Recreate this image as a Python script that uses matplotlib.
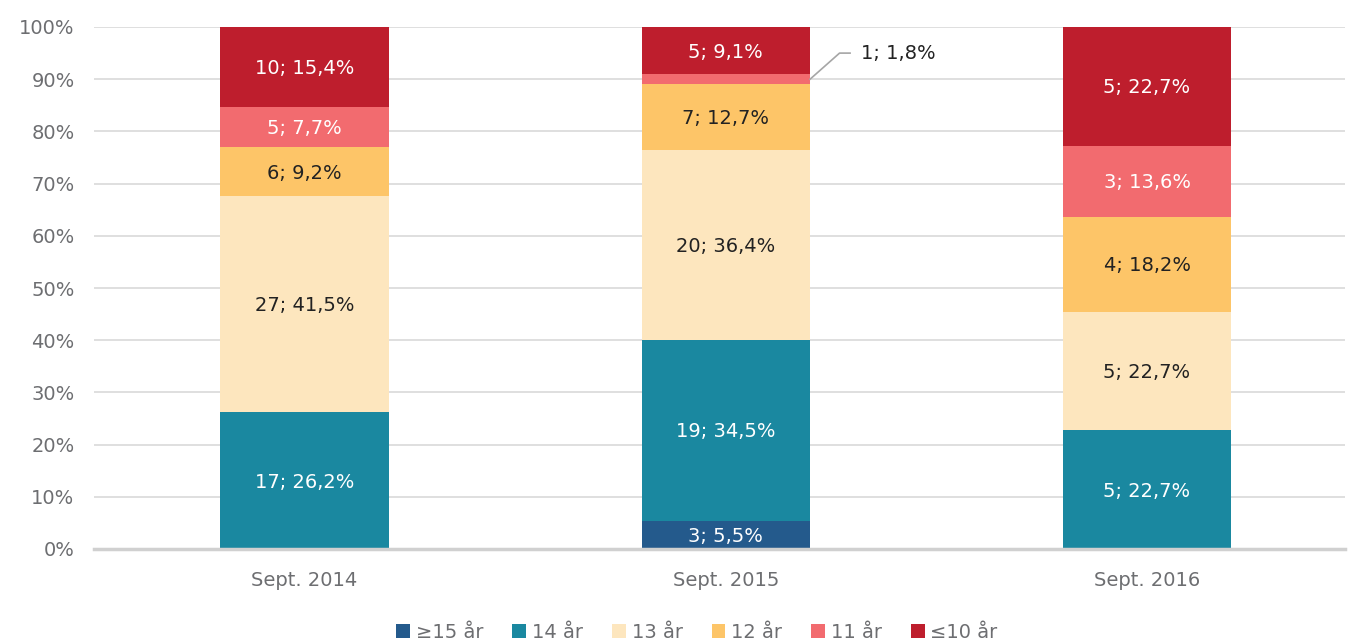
import numpy as np
import matplotlib.pyplot as plt

plt.rcParams['font.family'] = ['DejaVu Sans']

years = ['Sept. 2014', 'Sept. 2015', 'Sept. 2016']
groups = ['≥15 år', '14 år', '13 år', '12 år', '11 år', '≤10 år']
counts = {
    '≥15 år': [0, 3, 0],
    '14 år': [17, 19, 5],
    '13 år': [27, 20, 5],
    '12 år': [6, 7, 4],
    '11 år': [5, 1, 3],
    '≤10 år': [10, 5, 5],
}
colors = ['#245a8c', '#1a88a0', '#fde6be', '#fdc568', '#f26b6f', '#be1e2d']
text_colors = ['white', 'white', '#222222', '#222222', 'white', 'white']

totals = np.sum([counts[g] for g in groups], axis=0)

fig = plt.figure(figsize=(13.49, 6.44), dpi=100)
ax = fig.add_axes([94 / 1349, 95 / 644, (1345 - 94) / 1349, (549 - 27) / 644])

x = np.arange(len(years))
bottom = np.zeros(len(years))
for g, c, tc in zip(groups, colors, text_colors):
    vals = np.array(counts[g])
    pct = vals / totals * 100
    ax.bar(x, pct, 0.4, bottom=bottom, color=c, label=g, zorder=3)
    for i in range(len(years)):
        if vals[i] == 0:
            continue
        lab = f'{vals[i]}; {pct[i]:.1f}%'.replace('.', ',')
        if pct[i] < 3:
            # small slice gets a callout
            y = bottom[i] + pct[i] / 2
            ax.plot([x[i] + 0.2, x[i] + 0.27, x[i] + 0.295], [y, y + 5, y + 5],
                    color='#a6a6a6', lw=1.2, zorder=4, clip_on=False)
            ax.text(x[i] + 0.322, y + 5, lab, ha='left', va='center',
                    fontsize=14, color='#222222')
        else:
            ax.text(x[i], bottom[i] + pct[i] / 2 - 0.3, lab, ha='center', va='center',
                    fontsize=14, color=tc, zorder=5)
    bottom += pct

ax.set_xlim(-0.5, 2.47)
ax.set_ylim(0, 100)
ax.set_yticks(np.arange(0, 101, 10))
ax.set_yticklabels([f'{v}%' for v in range(0, 101, 10)])
ax.set_xticks(x)
ax.set_xticklabels(years)
ax.tick_params(axis='both', length=0, colors='#6d6e71', labelsize=14)
ax.tick_params(axis='x', pad=16)
ax.tick_params(axis='y', pad=14)
ax.grid(axis='y', color='#d9d9d9', lw=1.2, zorder=0)
for s in ['top', 'right', 'left']:
    ax.spines[s].set_visible(False)
ax.spines['bottom'].set_color('#d0d0d0')
ax.spines['bottom'].set_linewidth(2.5)
ax.spines['bottom'].set_zorder(4)

leg = fig.legend(loc='center', bbox_to_anchor=(697 / 1349, 1 - 632 / 644), ncol=6,
                 frameon=False, fontsize=14, handlelength=0.7, handleheight=0.7,
                 handletextpad=0.3, columnspacing=1.5)
for t in leg.get_texts():
    t.set_color('#6d6e71')

fig.savefig('out.png', dpi=100)
